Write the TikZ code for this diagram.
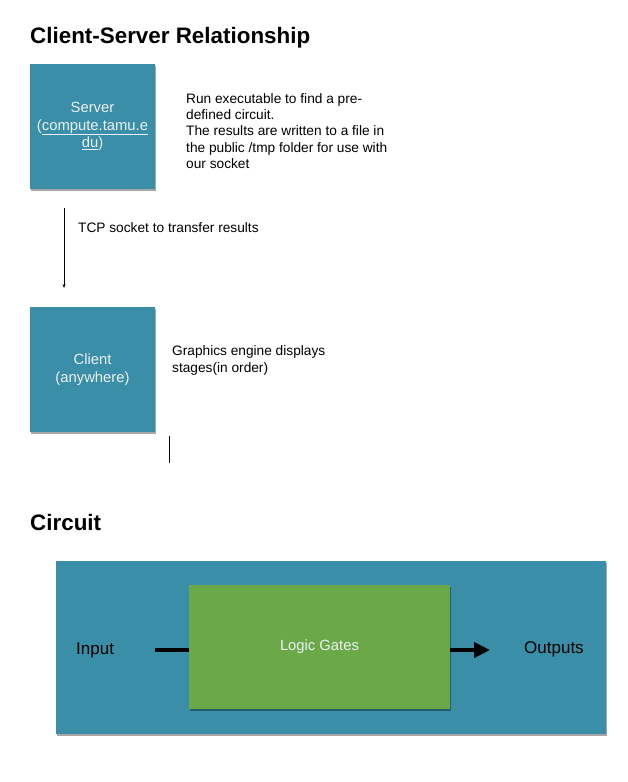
\documentclass[tikz,border=0pt]{standalone}
\usepackage{fontspec}
\setmainfont{Liberation Sans}
\usetikzlibrary{arrows.meta,shadows}
\definecolor{boxblue}{RGB}{58,142,168}
\definecolor{gatesgreen}{RGB}{106,168,72}
\definecolor{boxtext}{RGB}{236,242,244}
\begin{document}
\begin{tikzpicture}[x=1pt,y=-1pt,
  title/.style={anchor=base west,inner sep=0pt,font=\fontsize{22.4}{26}\selectfont\bfseries},
  note/.style={anchor=west,inner sep=0pt,align=left,font=\fontsize{13.7}{16.3}\selectfont},
  bluebox/.style={fill=boxblue,draw=none,minimum width=125pt,minimum height=125pt,inner sep=0pt,
    align=center,text=boxtext,font=\fontsize{14.8}{17.5}\selectfont,
    drop shadow={shadow xshift=1pt,shadow yshift=-2pt,opacity=0.35,fill=black}},
  label/.style={inner sep=0pt,font=\fontsize{17}{20}\selectfont},
  thinarrow/.style={-{Stealth[length=4pt,width=3pt]},line width=0.6pt},
  thickline/.style={line width=4pt}
]
\useasboundingbox[fill=white] (0,0) rectangle (628,782);

% Client-Server section
\node[title] (t1) at (30,43) {Client-Server Relationship};
\node[bluebox] (server) at (92.5,126.5) {Server\\(\underline{compute.tamu.e}\\\underline{du})};
\node[note] (srvnote) at (186,131) {Run executable to find a pre-\\defined circuit.\\The results are written to a file in\\the public /tmp folder for use with\\our socket};
\coordinate (tcpstart) at (64,208);
\coordinate (tcpend) at (64,288);
\draw[thinarrow] (tcpstart) -- (tcpend);
\node[note] (tcp) at (78,228) {TCP socket to transfer results};
\node[bluebox] (client) at (92.5,369.5) {Client\\(anywhere)};
\node[note] (clnote) at (172,360.5) {Graphics engine displays\\stages(in order)};
\coordinate (cursortop) at (169,436);
\coordinate (cursorbot) at (169,463);
\draw[line width=1pt] (cursortop) -- (cursorbot);

% Circuit section
\node[title] (t2) at (30,530) {Circuit};
\node[fill=boxblue,minimum width=550pt,minimum height=173pt,inner sep=0pt,
  drop shadow={shadow xshift=1pt,shadow yshift=-2pt,opacity=0.35,fill=black}] (circuit) at (331,647.5) {};
\node[fill=gatesgreen,minimum width=261pt,minimum height=124pt,inner sep=0pt,
  text=boxtext,font=\fontsize{14.8}{17}\selectfont,
  drop shadow={shadow xshift=1pt,shadow yshift=-2pt,opacity=0.35,fill=black}] (gates) at (319.5,647) {Logic Gates};
\node[label,anchor=west] (input) at (76,650) {Input};
\node[label,anchor=west] (outputs) at (524,649) {Outputs};
\coordinate (instart) at (155,650);
\coordinate (outend) at (490,650);
\draw[thickline] (instart) -- (gates.west |- instart);
\draw[thickline,-{Triangle[length=16pt,width=15pt]}] (gates.east |- outend) -- (outend);
\end{tikzpicture}
\end{document}
